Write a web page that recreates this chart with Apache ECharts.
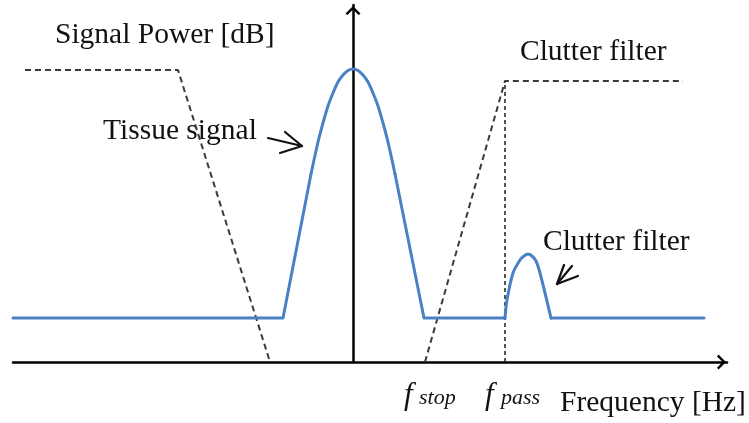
<!DOCTYPE html>
<html>
<head>
<meta charset="utf-8">
<script src="https://cdn.jsdelivr.net/npm/echarts@6/dist/echarts.min.js"></script>
<style>
  html, body { margin: 0; padding: 0; background: #fff; }
  #chart { width: 749px; height: 423px; }
</style>
</head>
<body>
<div id="chart"></div>
<script>
// Frequency (arbitrary units, 0 = DC) and power (dB, arbitrary reference)
const signalFreq = [-34, -7.0, -4.2, -3.5, -3.0, -2.5, -2.0, -1.5, -1.0, -0.5, 0,
  0.5, 1.0, 1.5, 2.0, 2.5, 3.0, 3.5, 4.2, 7.1,
  15.2, 15.4, 16.0, 16.7, 17.1, 17.5, 17.9, 18.3, 18.7, 19.8, 35.1];
const signalPower = [4.4, 4.4, 18.8, 22.0, 23.9, 25.6, 26.9, 28.0, 28.7, 29.15, 29.3,
  29.15, 28.7, 28.0, 26.9, 25.6, 23.9, 22.0, 18.8, 4.4,
  4.4, 6.2, 8.9, 10.2, 10.6, 10.8, 10.6, 10.1, 8.9, 4.4, 4.4];

// Clutter filter response (negative and positive frequency sides)
const filterLeftFreq = [-32.8, -17.5, -8.3];
const filterLeftGain = [29.2, 29.2, 0];
const filterRightFreq = [7.2, 15.2, 33.0];
const filterRightGain = [0, 28.1, 28.1];

// Cut-off frequencies
const fStop = 7.2;
const fPass = 15.2;
const fPassTop = 28.1;

// Hand-drawn pointer strokes: [x0, y0, x1, y1]
const tissuePointer = [[-8.5, 22.4, -5.1, 21.6], [-6.8, 23.0, -5.1, 21.6], [-5.1, 21.6, -7.3, 20.9]];
const bloodPointer = [[20.4, 7.8, 21.1, 9.7], [20.4, 7.8, 22.5, 8.6], [20.4, 7.8, 21.9, 9.6]];

const zip = (xs, ys) => xs.map((x, i) => [x, ys[i]]);

const serif = "'Liberation Serif', 'Times New Roman', serif";
const chevron = 'path://M0,10 L10,0 L20,10 L17.5,12 L10,4.5 L2.5,12 Z';

const series = [
  {
    type: 'line', data: zip(filterLeftFreq, filterLeftGain), symbol: 'none',
    lineStyle: { color: '#3a3a3a', width: 2, type: [6, 4] }, z: 2
  },
  {
    type: 'line', data: zip(filterRightFreq, filterRightGain), symbol: 'none',
    lineStyle: { color: '#3a3a3a', width: 2, type: [6, 4] }, z: 2
  },
  {
    type: 'line', data: [[fPass, 0], [fPass, fPassTop]], symbol: 'none',
    lineStyle: { color: '#2a2a2a', width: 1.6, type: [4, 3] }, z: 2
  }
];

// The spectrum is drawn piecewise: straight flanks and baselines, rounded peaks
const signal = zip(signalFreq, signalPower);
const pieces = [[0, 2, false], [2, 18, true], [18, 20, false], [20, 29, true], [29, 30, false]];
pieces.forEach(p => {
  series.push({
    type: 'line', data: signal.slice(p[0], p[1] + 1), symbol: 'none',
    smooth: p[2] ? 0.3 : false,
    lineStyle: { color: '#4a80c4', width: 3, join: 'round', cap: 'round' }, z: 3
  });
});

tissuePointer.concat(bloodPointer).forEach(s => {
  series.push({
    type: 'line', data: [[s[0], s[1]], [s[2], s[3]]], symbol: 'none',
    lineStyle: { color: '#111', width: 2.2, cap: 'round' }, z: 4
  });
});

const chart = echarts.init(document.getElementById('chart'), null, { renderer: 'canvas' });

function txt(text, x, y, size, italic) {
  return {
    type: 'text', x: x, y: y, silent: true,
    style: {
      text: text, fill: '#111', fontSize: size, fontFamily: serif,
      fontStyle: italic ? 'italic' : 'normal',
      align: 'left', verticalAlign: 'middle'
    }
  };
}

chart.setOption({
  animation: false,
  backgroundColor: '#fff',
  grid: { left: 13, right: 22, top: 5, bottom: 61 },
  xAxis: {
    type: 'value', min: -34, max: 37.4,
    axisLine: {
      onZero: true, symbol: ['none', chevron], symbolSize: [15, 11], symbolOffset: [0, -5.5],
      lineStyle: { color: '#000', width: 2.5 }
    },
    axisTick: { show: false }, axisLabel: { show: false }, splitLine: { show: false }
  },
  yAxis: {
    type: 'value', min: 0, max: 35.7,
    axisLine: {
      onZero: true, symbol: ['none', chevron], symbolSize: [15, 11], symbolOffset: [0, -5.5],
      lineStyle: { color: '#000', width: 2.5 }
    },
    axisTick: { show: false }, axisLabel: { show: false }, splitLine: { show: false }
  },
  series: series,
  graphic: [
    txt('Signal Power [dB]', 55, 35, 29.5),
    txt('Clutter filter', 520, 52, 29.5),
    txt('Tissue signal', 103, 131, 29.5),
    txt('Clutter filter', 543, 242, 29.5),
    txt('Frequency [Hz]', 560, 403, 29.5),
    txt('f', 404, 396, 31, true),
    txt('stop', 419, 398, 22, true),
    txt('f', 485, 396, 31, true),
    txt('pass', 501, 398, 22, true)
  ]
});
</script>
</body>
</html>
